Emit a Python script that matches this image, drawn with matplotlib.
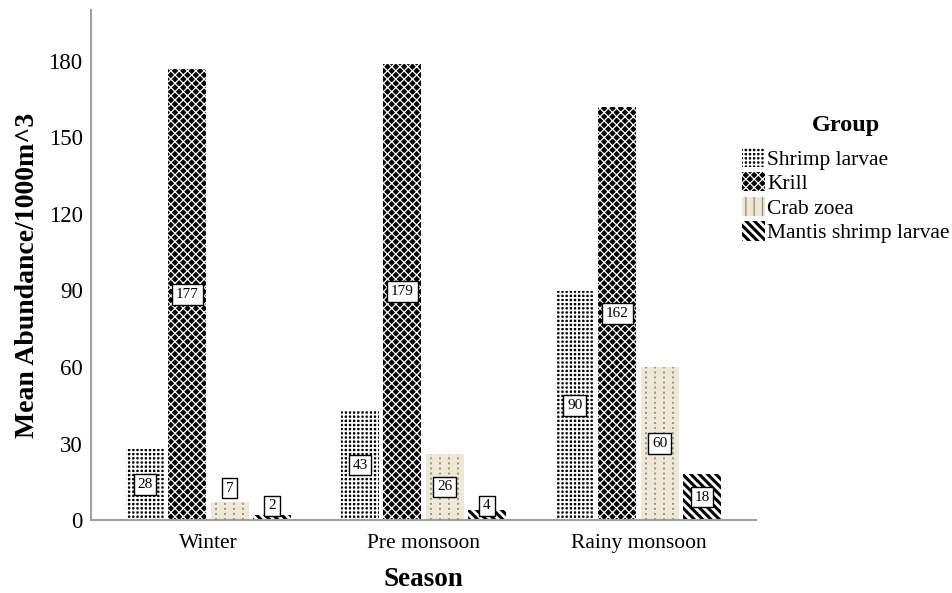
import matplotlib
matplotlib.use("Agg")
import matplotlib.pyplot as plt
import numpy as np
from matplotlib.patches import Patch

plt.rcParams['font.family'] = ['Liberation Serif', 'DejaVu Serif']

seasons = ["Winter", "Pre monsoon", "Rainy monsoon"]
groups = ["Shrimp larvae", "Krill", "Crab zoea", "Mantis shrimp larvae"]
shrimp_larvae = [28, 43, 90]
krill = [177, 179, 162]
crab_zoea = [7, 26, 60]
mantis_shrimp_larvae = [2, 4, 18]
yticks = [0, 30, 60, 90, 120, 150, 180]

series = [shrimp_larvae, krill, crab_zoea, mantis_shrimp_larvae]

# fill style per group: (face, hatch, hatch colour, hatch width)
styles = [
    dict(face="black", hatch="++++", hc="white", hw=1.3),
    dict(face="black", hatch="xxxx", hc="white", hw=0.9),
    dict(face="#efe8d6", hatch=None, hc="#9a9484", hw=1.0),
    dict(face="white", hatch="\\\\\\\\", hc="black", hw=2.2),
]

fig = plt.figure(figsize=(9.53, 5.93), dpi=100)
ax = fig.add_axes([91 / 953, 73 / 593, 665 / 953, 510 / 593])

x = np.arange(len(seasons))
pitch = 0.197
width = 0.177
offsets = (np.arange(len(groups)) - 1.5) * pitch


def set_hatch_width(p, w):
    try:
        p.set_hatch_linewidth(w)
    except AttributeError:
        pass


def make_bar(xpos, h, st):
    plt.rcParams['hatch.linewidth'] = st["hw"]
    b = ax.bar(xpos, h, width, color=st["face"], edgecolor=st["hc"],
               linewidth=0, hatch=st["hatch"], zorder=2)
    for p in b:
        set_hatch_width(p, st["hw"])
    return b


for gi, (vals, st) in enumerate(zip(series, styles)):
    bars = make_bar(x + offsets[gi], vals, st)
    if gi == 2:
        # dotted vertical rules inside the beige bars
        for p in bars:
            x0, w, hgt = p.get_x(), p.get_width(), p.get_height()
            for k in range(4):
                xx = x0 + w * (0.14 + 0.24 * k)
                ln, = ax.plot([xx, xx], [0, hgt], color=st["hc"],
                              linestyle=(0, (1.0, 1.6)), linewidth=1.4,
                              zorder=3)
                ln.set_clip_path(p)
    for p, v in zip(bars, vals):
        cx = p.get_x() + p.get_width() / 2
        if v >= 10:
            ly = v / 2
        elif v >= 5:
            ly = v + 5.5
        else:
            ly = 5.5
        ax.text(cx, ly, f"{v}", ha="center", va="center", fontsize=11,
                zorder=5,
                bbox=dict(boxstyle="square,pad=0.25", facecolor="white",
                          edgecolor="black", linewidth=1.0))

ax.set_xlim(-0.547, 2.547)
ax.set_ylim(0, 200)
ax.set_yticks(yticks)
ax.set_yticklabels([str(t) for t in yticks], fontsize=16.5)
ax.set_xticks(x)
ax.set_xticklabels(seasons, fontsize=15.5)
ax.tick_params(axis="both", length=0)
ax.tick_params(axis="y", pad=6)
ax.tick_params(axis="x", pad=10)
for s in ["top", "right"]:
    ax.spines[s].set_visible(False)
for s in ["left", "bottom"]:
    ax.spines[s].set_color("#a0a0a0")
    ax.spines[s].set_linewidth(1.5)

fig.text(28 / 953, 1 - 275 / 593, "Mean Abundance/1000m^3", rotation=90,
         ha="center", va="center", fontsize=20, fontweight="bold")
fig.text(423 / 953, 1 - 580 / 593, "Season", ha="center", va="center",
         fontsize=19.5, fontweight="bold")

# legend: heading set on its own, entries below
fig.text(846 / 953, 1 - 125 / 593, "Group", ha="center", va="center",
         fontsize=17.5, fontweight="bold")

handles = []
for st in styles:
    hp = Patch(facecolor=st["face"], edgecolor=st["hc"], linewidth=0,
               hatch=st["hatch"] if st["hatch"] else "||")
    handles.append(hp)

leg = fig.legend(handles, groups, loc="upper left",
                 bbox_to_anchor=(733 / 953, 1 - 139 / 593), frameon=False,
                 fontsize=15.5,
                 handlelength=1.1, handleheight=1.0, handletextpad=0.1,
                 labelspacing=0.12, borderaxespad=0)
for lp, st in zip(leg.get_patches(), styles):
    set_hatch_width(lp, st["hw"])

fig.savefig("out.png", dpi=100, facecolor="white")
